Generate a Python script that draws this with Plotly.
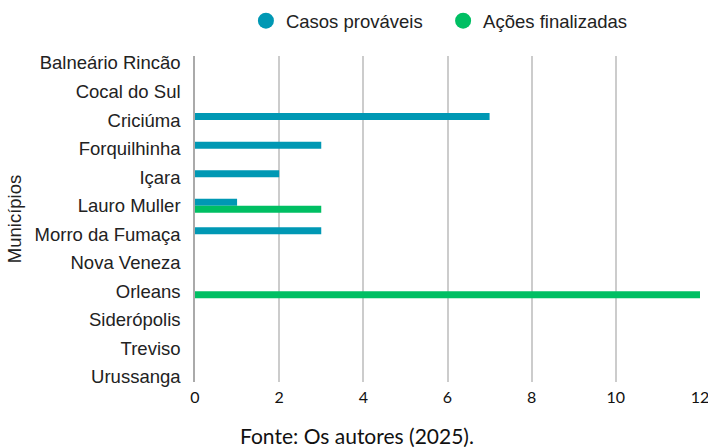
import plotly.graph_objects as go

municipios = ["Balneário Rincão", "Cocal do Sul", "Criciúma", "Forquilhinha", "Içara",
              "Lauro Muller", "Morro da Fumaça", "Nova Veneza", "Orleans", "Siderópolis",
              "Treviso", "Urussanga"]
casos_provaveis = [0, 0, 7, 3, 2, 1, 3, 0, 0, 0, 0, 0]
acoes_finalizadas = [0, 0, 0, 0, 0, 3, 0, 0, 12, 0, 0, 0]
x_ticks = [0, 2, 4, 6, 8, 10, 12]

BLUE = "#0098B4"
GREEN = "#00BF63"

fig = go.Figure()
fig.add_trace(go.Bar(y=municipios, x=casos_provaveis, orientation="h", name="Casos prováveis",
                     marker=dict(color=BLUE, line=dict(width=0)), showlegend=False))
fig.add_trace(go.Bar(y=municipios, x=acoes_finalizadas, orientation="h", name="Ações finalizadas",
                     marker=dict(color=GREEN, line=dict(width=0)), showlegend=False))
# legend entries with circle symbols
fig.add_trace(go.Scatter(x=[None], y=[None], mode="markers",
                         name="Casos prováveis\u00a0\u00a0\u00a0",
                         marker=dict(symbol="circle", size=19, color=BLUE)))
fig.add_trace(go.Scatter(x=[None], y=[None], mode="markers", name="Ações finalizadas",
                         marker=dict(symbol="circle", size=19, color=GREEN)))

fig.update_layout(
    width=708, height=447,
    margin=dict(l=195, r=8, t=56, b=65, autoexpand=False),
    paper_bgcolor="white", plot_bgcolor="white",
    barmode="group", bargap=0.51, bargroupgap=0,
    font=dict(family="Liberation Sans, Arial, sans-serif", size=18.5, color="#222222"),
    legend=dict(orientation="h", x=0.484, xanchor="center", y=1.107, yanchor="middle",
                yref="paper", font=dict(size=18.5), itemwidth=30, tracegroupgap=0),
    annotations=[dict(text="Fonte: Os autores (2025).", xref="paper", yref="paper",
                      x=0.32, y=-0.163, xanchor="center", yanchor="middle", showarrow=False,
                      font=dict(family="Lato, sans-serif", size=21, color="#111111"))],
)
fig.update_xaxes(range=[0, 12.0], tickvals=x_ticks, showgrid=True, gridcolor="#cccccc",
                 gridwidth=1.5, zeroline=False, showline=False, automargin=False,
                 tickfont=dict(family="Lato, sans-serif", size=16, color="#111111"),
                 ticks="", ticklabelstandoff=4, ticklabeloverflow="allow", fixedrange=True)
fig.update_yaxes(categoryorder="array", categoryarray=municipios,
                 range=[11.175, -0.245], showgrid=False, zeroline=False,
                 showline=True, linecolor="#aaaaaa", linewidth=1.5, automargin=False,
                 ticks="", ticklabelstandoff=9, fixedrange=True,
                 title=dict(text="Municípios", standoff=8, font=dict(size=18.5)))
fig.write_html("out.html", config={"displayModeBar": False},
               post_script="document.body.style.margin='0';document.body.style.overflow='hidden';")
